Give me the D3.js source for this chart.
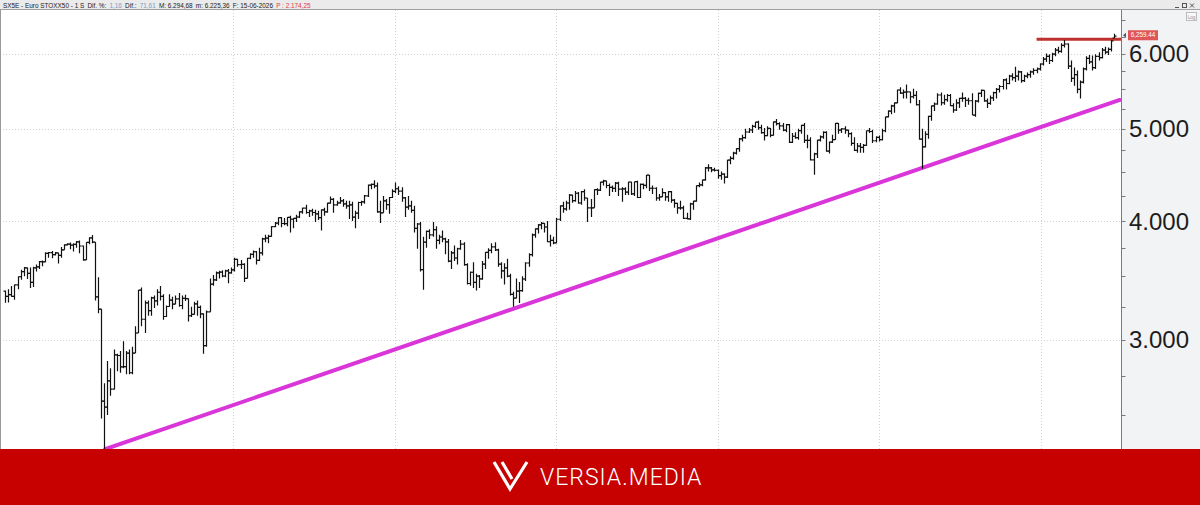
<!DOCTYPE html>
<html>
<head>
<meta charset="utf-8">
<script src="https://cdn.jsdelivr.net/npm/d3@7"></script>
<style>
  html, body { margin: 0; padding: 0; background: #fff; }
  svg { display: block; }
</style>
</head>
<body>
<div id="chart"></div>
<script>
// weekly bars [open, high, low, close], first bar = week of 2019-08-05
const firstWeek = new Date(2019, 7, 5);

const ohlc2019 = [
  [3375,3380,3282,3333],[3333,3390,3283,3346],[3346,3418,3330,3333],[3333,3430,3305,3426],
  [3426,3500,3390,3495],[3495,3554,3470,3538],[3538,3578,3500,3571],[3571,3575,3475,3523],[3523,3575,3400,3448],
  [3448,3580,3410,3570],[3570,3600,3540,3579],[3579,3630,3560,3625],[3625,3635,3585,3623],
  [3623,3708,3620,3699],[3699,3711,3660,3705],[3705,3720,3655,3687],[3687,3710,3680,3703],
  [3703,3705,3608,3680],[3680,3756,3660,3730],[3730,3782,3730,3776],[3776,3790,3770,3782],[3782,3798,3735,3773]
];
const ohlc2020 = [
  [3773,3790,3715,3780],[3780,3810,3750,3802],[3802,3815,3700,3765],[3765,3770,3633,3640],
  [3640,3800,3640,3798],[3798,3845,3780,3840],[3840,3867,3790,3800],[3800,3800,3300,3329],
  [3329,3490,3200,3232],[3232,3232,2480,2586],[2586,2700,2302,2549],[2549,2850,2500,2716],[2716,2800,2620,2662],
  [2662,2930,2660,2893],[2893,2900,2780,2888],[2888,2920,2770,2809],[2809,2990,2800,2811],
  [2811,2920,2760,2905],[2905,2930,2760,2770],[2770,2950,2760,2905],[2905,3100,2905,3050],
  [3050,3385,3050,3384],[3384,3405,3100,3153],[3153,3300,3050,3280],[3280,3300,3180,3220],[3220,3330,3180,3321],
  [3321,3340,3240,3296],[3296,3390,3260,3366],[3366,3418,3300,3333],[3333,3350,3150,3174],
  [3174,3260,3170,3252],[3252,3350,3250,3303],[3303,3330,3230,3271],[3271,3340,3270,3313],[3313,3360,3250,3260],
  [3260,3340,3230,3316],[3316,3345,3295,3315],[3315,3315,3135,3180],[3180,3250,3170,3190],
  [3190,3290,3190,3273],[3273,3300,3180,3245],[3245,3260,3160,3194],[3194,3200,2900,2958],
  [2958,3220,2950,3210],[3210,3480,3210,3433],[3433,3510,3420,3468],[3468,3540,3460,3527],[3527,3545,3480,3534],
  [3534,3550,3490,3501],[3501,3555,3490,3545],[3545,3560,3440,3527],[3527,3575,3520,3553]
];
const ohlc2021 = [
  [3553,3660,3540,3645],[3645,3650,3580,3599],[3599,3640,3560,3602],[3602,3610,3450,3481],
  [3481,3660,3481,3655],[3655,3700,3645,3689],[3689,3725,3660,3713],[3713,3720,3600,3636],
  [3636,3750,3630,3702],[3702,3840,3680,3831],[3831,3870,3800,3837],[3837,3870,3790,3853],[3853,3950,3850,3945],
  [3945,3990,3940,3979],[3979,4035,3960,4032],[4032,4040,3940,3976],[3976,4030,3960,3975],
  [3975,4040,3950,4035],[4035,4050,3890,4017],[4017,4030,3930,4025],[4025,4060,3990,4039],[4039,4095,4030,4090],
  [4090,4130,4070,4127],[4127,4160,4070,4083],[4083,4110,4040,4100],[4100,4120,4050,4083],
  [4083,4110,3990,4070],[4070,4100,4010,4033],[4033,4115,3910,4110],[4110,4130,4050,4089],
  [4089,4180,4080,4176],[4176,4245,4170,4215],[4215,4230,4080,4160],[4160,4200,4150,4180],[4180,4240,4170,4200],
  [4200,4220,4140,4170],[4170,4200,4120,4150],[4150,4200,4020,4160],[4160,4190,4000,4037],
  [4037,4100,3930,4077],[4077,4190,4020,4183],[4183,4200,4150,4189],[4189,4260,4170,4250],
  [4250,4370,4240,4363],[4363,4380,4320,4370],[4370,4415,4330,4356],[4356,4390,4080,4090],[4090,4200,3980,4080],
  [4080,4250,4080,4200],[4200,4220,4110,4161],[4161,4240,4070,4234],[4234,4320,4230,4298]
];
const ohlc2022 = [
  [4298,4392,4280,4325],[4325,4350,4260,4300],[4300,4340,4190,4230],[4230,4240,4040,4136],[4136,4250,4110,4150],
  [4150,4200,4080,4105],[4105,4150,3890,3930],[3930,3980,3740,3971],[3971,3990,3540,3556],
  [3556,3850,3387,3800],[3800,3910,3750,3900],[3900,3920,3830,3867],[3867,3990,3850,3918],
  [3918,3950,3740,3817],[3817,3870,3780,3848],[3848,3910,3800,3830],[3830,3840,3690,3803],
  [3803,3830,3620,3630],[3630,3720,3560,3703],[3703,3770,3630,3657],[3657,3750,3600,3740],[3740,3820,3730,3783],
  [3783,3800,3590,3599],[3599,3610,3430,3438],[3438,3540,3420,3533],[3533,3620,3400,3448],
  [3448,3520,3380,3500],[3500,3510,3400,3477],[3477,3630,3470,3604],[3604,3710,3560,3708],
  [3708,3745,3650,3725],[3725,3790,3700,3757],[3757,3800,3720,3730],[3730,3740,3580,3603],[3603,3620,3480,3545],
  [3545,3610,3430,3570],[3570,3650,3490,3500],[3500,3520,3340,3349],[3349,3370,3250,3318],
  [3318,3480,3318,3375],[3375,3450,3280,3380],[3380,3500,3370,3476],[3476,3620,3460,3613],[3613,3700,3580,3688],
  [3688,3880,3670,3868],[3868,3930,3840,3924],[3924,3970,3880,3962],[3962,3990,3920,3977],
  [3977,3980,3890,3942],[3942,4000,3800,3804],[3804,3870,3760,3817],[3817,3850,3780,3794]
];
const ohlc2023 = [
  [3794,4030,3790,4017],[4017,4155,4000,4150],[4150,4190,4080,4119],[4119,4200,4100,4178],[4178,4270,4110,4258],
  [4258,4265,4180,4202],[4202,4300,4190,4278],[4278,4290,4170,4178],[4178,4300,4160,4294],
  [4294,4320,4200,4229],[4229,4230,3990,4130],[4130,4220,4040,4130],[4130,4320,4130,4315],
  [4315,4330,4260,4310],[4310,4400,4300,4394],[4394,4420,4360,4407],[4407,4410,4330,4359],
  [4359,4380,4250,4340],[4340,4360,4290,4328],[4328,4395,4290,4385],[4385,4400,4250,4320],[4320,4340,4190,4323],
  [4323,4340,4260,4290],[4290,4400,4260,4396],[4396,4400,4260,4271],[4271,4400,4250,4399],
  [4399,4410,4230,4234],[4234,4380,4230,4370],[4370,4380,4320,4360],[4360,4470,4330,4469],[4469,4471,4300,4330],
  [4330,4360,4270,4330],[4330,4340,4200,4229],[4229,4270,4200,4241],[4241,4330,4240,4285],
  [4285,4290,4200,4240],[4240,4300,4190,4295],[4295,4300,4180,4207],[4207,4220,4130,4175],
  [4175,4180,4070,4130],[4130,4200,4110,4130],[4130,4150,4020,4025],[4025,4080,4014,4020],[4020,4180,4010,4170],
  [4170,4200,4110,4197],[4197,4360,4190,4357],[4357,4390,4340,4365],[4365,4420,4350,4418],
  [4418,4560,4410,4550],[4550,4590,4510,4549],[4549,4560,4500,4528],[4528,4550,4510,4521]
];
const ohlc2024 = [
  [4521,4530,4430,4464],[4464,4510,4420,4480],[4480,4490,4380,4449],[4449,4640,4440,4635],[4635,4680,4590,4655],
  [4655,4730,4640,4715],[4715,4770,4700,4765],[4765,4890,4730,4880],[4880,4930,4850,4895],
  [4895,5000,4880,4962],[4962,5010,4950,4986],[4986,5050,4950,5031],[5031,5085,5010,5083],
  [5083,5100,4990,5014],[5014,5050,4940,4955],[4955,5010,4860,4918],[4918,5030,4910,5006],[5006,5010,4900,4921],
  [4921,5090,4920,5085],[5085,5121,5040,5064],[5064,5080,4990,5036],[5036,5070,4970,4984],
  [4984,5060,4960,5052],[5052,5060,4830,4839],[4839,4950,4830,4911],[4911,4960,4880,4894],
  [4894,5000,4870,4979],[4979,5050,4940,5043],[5043,5070,4830,4862],[4862,4930,4770,4862],[4862,4900,4630,4638],
  [4638,4720,4474,4706],[4706,4870,4660,4864],[4864,4920,4850,4903],[4903,4970,4880,4958],
  [4958,4970,4730,4738],[4738,4850,4710,4841],[4841,4930,4830,4872],[4872,5070,4870,5067],[5067,5070,4940,4985],
  [4985,5010,4950,5000],[5000,5030,4940,4985],[4985,4990,4900,4943],[4943,4960,4800,4828],
  [4828,4900,4740,4745],[4745,4830,4720,4796],[4796,4830,4720,4780],[4780,4820,4720,4804],
  [4804,4980,4800,4977],[4977,5010,4950,4968],[4968,4990,4830,4858],[4858,4910,4840,4898],[4898,4920,4850,4872]
];
const ohlc2025 = [
  [4872,5000,4860,4977],[4977,5150,4960,5148],[5148,5230,5140,5219],[5219,5300,5180,5286],
  [5286,5330,5200,5325],[5325,5500,5320,5493],[5493,5530,5440,5452],[5452,5500,5380,5464],
  [5464,5568,5380,5468],[5468,5470,5320,5404],[5404,5510,5380,5423],[5423,5480,5290,5300],[5300,5360,4870,4878],
  [4878,5000,4540,4787],[4787,4970,4780,4935],[4935,5160,4880,5154],[5154,5290,5100,5285],
  [5285,5330,5220,5310],[5310,5450,5300,5427],[5427,5460,5290,5326],[5326,5430,5300,5367],
  [5367,5440,5340,5420],[5420,5440,5280,5290],[5290,5320,5200,5233],[5233,5370,5220,5325],[5325,5390,5260,5383],
  [5383,5460,5340,5383],[5383,5400,5270,5358],[5358,5390,5300,5352],[5352,5450,5170,5168],
  [5168,5360,5150,5347],[5347,5460,5330,5449],[5449,5500,5400,5488],[5488,5490,5340,5351],
  [5351,5380,5260,5318],[5318,5420,5300,5390],[5390,5470,5350,5458],[5458,5520,5380,5500],[5500,5560,5460,5540],
  [5540,5640,5500,5630],[5630,5650,5500,5580],[5580,5700,5570,5680],[5680,5720,5620,5660],
  [5660,5810,5600,5680],[5680,5760,5620,5740],[5740,5750,5590,5620],[5620,5700,5600,5680],
  [5680,5730,5650,5700],[5700,5760,5660,5740],[5740,5790,5700,5760],[5760,5800,5720,5780],[5780,5860,5760,5850]
];
const ohlc2026 = [
  [5850,5950,5830,5920],[5920,6000,5880,5960],[5960,5990,5850,5900],[5900,6010,5880,5990],
  [5990,6080,5960,6050],[6050,6100,6000,6030],[6030,6150,6010,6120],[6120,6200,6090,6140],
  [6140,6150,5780,5820],[5820,5900,5600,5650],[5650,5800,5550,5700],[5700,5760,5450,5500],[5500,5620,5380,5600],
  [5600,5800,5580,5780],[5780,5960,5760,5930],[5930,5980,5850,5880],[5880,5970,5760,5800],
  [5800,5990,5780,5960],[5960,6020,5900,5940],[5940,6080,5930,6050],[6050,6100,5990,6020],
  [6020,6090,5980,6060],[6060,6200,6030,6188],[6230,6295,6225,6259]
];

const yearLines = [2021, 2022, 2023, 2024, 2025, 2026];
const priceLevels = [3000, 4000, 5000, 6000];
const minorTicks = [2500, 2750, 3250, 3500, 3750, 4250, 4500, 4750, 5250, 5500, 5750, 6250, 6500];
const trendPoints = [[new Date(2020, 2, 18), 2302], [new Date(2026, 5, 28), 5362]];
const resistanceStart = new Date(2025, 11, 22);
const resistanceValue = 6212;
const lastPrice = 6259.44;
const headerParts = [
  { text: "SX5E - Euro STOXX50 -  1 S", color: "#222" },
  { text: "Dif. %:", color: "#222" },
  { text: "1,16", color: "#7a9cc8" },
  { text: "Dif.:", color: "#222" },
  { text: "71,61", color: "#7a9cc8" },
  { text: "M: 6.294,68", color: "#222" },
  { text: "m: 6.225,36", color: "#222" },
  { text: "F: 15-06-2026", color: "#222" },
  { text: "P : 2.174,25", color: "#e03a3a" }
];

const allBars = [].concat(ohlc2019, ohlc2020, ohlc2021, ohlc2022, ohlc2023, ohlc2024, ohlc2025, ohlc2026)
  .map((b, i) => ({ date: d3.timeDay.offset(firstWeek, 7 * i), o: b[0], h: b[1], l: b[2], c: b[3] }));

const width = 1200, height = 505;
const plot = { left: 0, right: 1121, top: 10, bottom: 449 };
const fmt = d3.format(",.2f");

const svg = d3.select("#chart").append("svg")
  .attr("width", width)
  .attr("height", height)
  .style("font-family", "'Liberation Sans', Arial, sans-serif");

const x = d3.scaleTime()
  .domain([new Date(2021, 0, 1), new Date(2026, 0, 1)])
  .range([233, 1041]);

const y = d3.scaleLog()
  .domain([2303, 6667])
  .range([plot.bottom, plot.top]);

// backgrounds
svg.append("rect").attr("x", 0).attr("y", 0).attr("width", width).attr("height", height).attr("fill", "#fff");
svg.append("rect").attr("x", plot.right).attr("y", plot.top).attr("width", width - plot.right).attr("height", plot.bottom - plot.top)
  .attr("fill", "#f2f3f5");

svg.append("defs").append("clipPath").attr("id", "plotClip")
  .append("rect").attr("x", plot.left).attr("y", plot.top)
  .attr("width", plot.right - plot.left).attr("height", plot.bottom - plot.top);

const g = svg.append("g").attr("clip-path", "url(#plotClip)");

// grid
g.selectAll("line.hgrid").data(priceLevels).join("line")
  .attr("x1", plot.left).attr("x2", plot.right)
  .attr("y1", d => Math.round(y(d)) + 0.5).attr("y2", d => Math.round(y(d)) + 0.5)
  .attr("stroke", "#d2d2d2").attr("stroke-dasharray", "1,2");

g.selectAll("line.vgrid").data(yearLines).join("line")
  .attr("x1", d => Math.round(x(new Date(d, 0, 1))) + 0.5).attr("x2", d => Math.round(x(new Date(d, 0, 1))) + 0.5)
  .attr("y1", plot.top).attr("y2", plot.bottom)
  .attr("stroke", "#d2d2d2").attr("stroke-dasharray", "1,2");

// trend line
g.append("line")
  .attr("x1", x(trendPoints[0][0])).attr("y1", y(trendPoints[0][1]))
  .attr("x2", x(trendPoints[1][0])).attr("y2", y(trendPoints[1][1]))
  .attr("stroke", "#d935d9").attr("stroke-width", 4).attr("stroke-linecap", "round");

// resistance
g.append("line")
  .attr("x1", x(resistanceStart)).attr("x2", plot.right)
  .attr("y1", y(resistanceValue)).attr("y2", y(resistanceValue))
  .attr("stroke", "#c0302c").attr("stroke-width", 3);

// OHLC bars
g.selectAll("path.bar").data(allBars).join("path")
  .attr("class", "bar")
  .attr("d", d => {
    const cx = Math.round(x(d.date)) + 0.5;
    return `M${cx},${y(d.h)}V${y(d.l)}M${cx - 2},${y(d.o)}H${cx}M${cx},${y(d.c)}H${cx + 2}`;
  })
  .attr("fill", "none")
  .attr("stroke", "#111")
  .attr("stroke-width", 1.2);

// frame
svg.append("line").attr("x1", 0.5).attr("x2", 0.5).attr("y1", plot.top).attr("y2", plot.bottom).attr("stroke", "#999");

// right axis
const axisX = plot.right + 0.5;
svg.append("line").attr("x1", axisX).attr("x2", axisX).attr("y1", plot.top).attr("y2", plot.bottom).attr("stroke", "#7a7a7a");
svg.selectAll("line.minor").data(minorTicks.concat(priceLevels)).join("line")
  .attr("x1", axisX).attr("x2", axisX + 4)
  .attr("y1", d => Math.round(y(d)) + 0.5).attr("y2", d => Math.round(y(d)) + 0.5)
  .attr("stroke", "#7a7a7a");
svg.selectAll("text.ylab").data(priceLevels).join("text")
  .attr("x", 1129).attr("y", d => y(d) + 8.6)
  .attr("font-family", "'Liberation Sans', Arial, sans-serif")
  .attr("font-size", 24)
  .attr("fill", "#1d1d1d")
  .text(d => d3.format(",")(d).replace(",", "."));

// last price label
const ly = y(lastPrice) - 0.8;
svg.append("path").attr("d", `M1123,${ly}l3,-2.5v5z`).attr("fill", "#555");
svg.append("rect").attr("x", 1128).attr("y", ly - 5).attr("width", 30).attr("height", 10).attr("fill", "#e05555");
svg.append("text").attr("x", 1143).attr("y", ly + 2.2).attr("text-anchor", "middle")
  .attr("font-size", 6.3).attr("fill", "#fff").text(fmt(lastPrice));

// Log box
svg.append("rect").attr("x", 1186.5).attr("y", 12.5).attr("width", 10).attr("height", 8).attr("fill", "#f8f8f8").attr("stroke", "#bbb");
svg.append("text").attr("x", 1191.5).attr("y", 18.5).attr("text-anchor", "middle").attr("font-size", 4.5).attr("fill", "#888").text("Log");

// header strip, parts laid out one after another
svg.append("rect").attr("x", 0).attr("y", 0).attr("width", width).attr("height", plot.top).attr("fill", "#ebebeb");
svg.append("line").attr("x1", 0).attr("x2", width).attr("y1", plot.top - 0.5).attr("y2", plot.top - 0.5).attr("stroke", "#a0a0a0");
let hx = 3;
svg.append("g").selectAll("text").data(headerParts).join("text")
  .attr("y", 8)
  .attr("font-size", 6.4)
  .attr("fill", d => d.color)
  .text(d => d.text)
  .each(function () {
    d3.select(this).attr("x", hx);
    hx += this.getComputedTextLength() + 3.2;
  });
// window buttons
svg.append("line").attr("x1", 1175).attr("x2", 1179).attr("y1", 7.5).attr("y2", 7.5).attr("stroke", "#555");
svg.append("rect").attr("x", 1182.5).attr("y", 3.5).attr("width", 4).attr("height", 4).attr("fill", "none").attr("stroke", "#555");
svg.append("path").attr("d", "M1190,3.5L1194,7.5M1194,3.5L1190,7.5").attr("stroke", "#555");

// banner
const banner = svg.append("g");
banner.append("rect").attr("x", 0).attr("y", plot.bottom).attr("width", width).attr("height", height - plot.bottom).attr("fill", "#c70000");
banner.append("path")
  .attr("d", "M494,462 L510,489 L527,462 M502,462 L512,479")
  .attr("fill", "none").attr("stroke", "#fff").attr("stroke-width", 3.2).attr("stroke-linejoin", "miter");
banner.append("text")
  .attr("x", 540).attr("y", 485)
  .attr("font-family", "Roboto, sans-serif")
  .attr("font-weight", 300)
  .attr("font-size", 23)
  .attr("letter-spacing", 1)
  .attr("fill", "#fff")
  .text("VERSIA.MEDIA");
</script>
</body>
</html>
